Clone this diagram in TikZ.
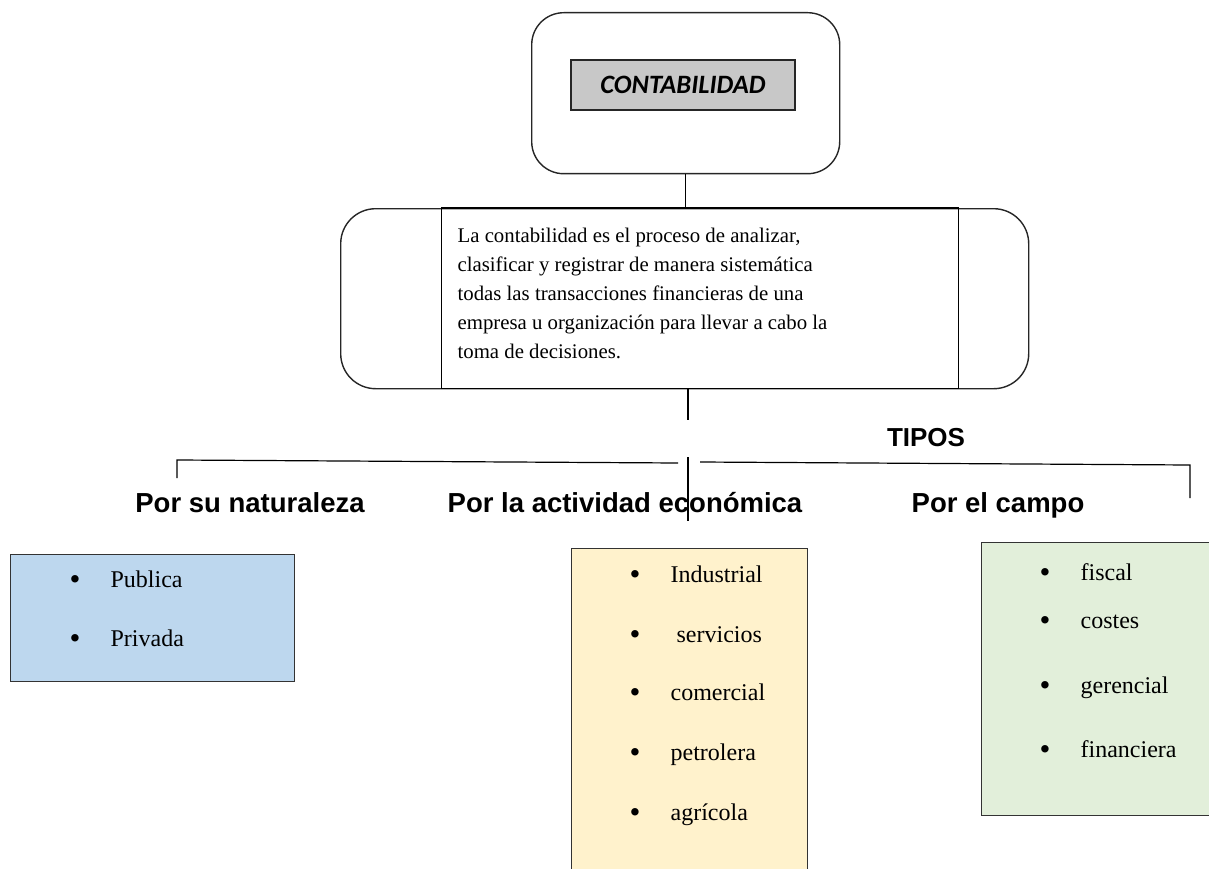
\documentclass[tikz,border=0pt]{standalone}
\usepackage{fontspec}
\setmainfont{Liberation Serif}
\newfontfamily\arialf{Liberation Sans}
\newfontfamily\calibf{Carlito}
\definecolor{grayF}{HTML}{C8C8C8}
\definecolor{blueF}{HTML}{BDD7EE}
\definecolor{yellowF}{HTML}{FFF2CC}
\definecolor{greenF}{HTML}{E2EFDA}
\newcommand{\bul}{\makebox[41pt][l]{\raisebox{-2.5pt}{\fontsize{31}{31}\selectfont •}}}
\begin{document}
\begin{tikzpicture}[x=1pt,y=-1pt,line width=1.2pt,
  frame/.style={draw=black!85,line width=1.4pt,anchor=north west,inner sep=0pt},
  box/.style={draw=black!80,line width=1.4pt,anchor=north west,inner sep=0pt},
  head/.style={font=\arialf\bfseries\fontsize{27.5}{30}\selectfont,anchor=base,inner sep=0pt},
  item/.style={font=\fontsize{24}{28}\selectfont,anchor=base west,inner sep=0pt}]
\useasboundingbox (0,0) rectangle (1209,869);
% top box
\node[frame,rounded corners=32pt,minimum width=308pt,minimum height=161pt] (top) at (531,12) {};
\node[draw=black!85,line width=1.2pt,fill=grayF,minimum width=224pt,minimum height=50pt,inner sep=0pt,
  font=\calibf\bfseries\itshape\fontsize{26.5}{30}\selectfont] (title) at (683,85) {CONTABILIDAD};
% description box
\node[frame,rounded corners=35pt,minimum width=688pt,minimum height=180pt] (desc) at (340,208) {};
\node[draw=black,line width=1.3pt,anchor=north west,minimum width=517pt,minimum height=180pt,inner sep=0pt] (inner) at (441,208) {};
\draw[line width=2.6pt] (inner.north west) -- (inner.north east);
\node[anchor=north west,inner sep=0pt,align=left,font=\fontsize{20.8}{29}\selectfont] (para) at (457,227)
 {La contabilidad es el proceso de analizar,\\
  clasificar y registrar de manera sistemática\\
  todas las transacciones financieras de una\\
  empresa u organización para llevar a cabo la\\
  toma de decisiones.};
% connectors
\draw (top.south) -- (top.south |- desc.north);
\coordinate (j1) at (688,420);
\draw (desc.south -| j1) -- (j1);
\coordinate (lt) at (177,478);
\coordinate (lc) at (177,460);
\coordinate (le) at (678,463);
\coordinate (rs) at (700,462);
\coordinate (rc) at (1190,465);
\coordinate (rt) at (1190,498);
\coordinate (mt) at (688,457);
\coordinate (mb) at (688,521);
\draw (lt) -- (lc) -- (le);
\draw (rs) -- (rc) -- (rt);
\draw (mt) -- (mb);
% labels
\node[head,font=\arialf\bfseries\fontsize{26}{30}\selectfont] (tipos) at (926,446) {TIPOS};
\node[head] (h1) at (250,512) {Por su naturaleza};
\node[head] (h2) at (625,512) {Por la actividad económica};
\node[head] (h3) at (998,512) {Por el campo};
% boxes
\node[box,fill=blueF,minimum width=284pt,minimum height=127pt] (b1) at (10,554) {};
\node[box,fill=yellowF,minimum width=236pt,minimum height=340pt] (b2) at (571,548) {};
\node[box,fill=greenF,minimum width=250pt,minimum height=273pt] (b3) at (981,542) {};
% items
\node[item] (p1) at (69,587) {\bul Publica};
\node[item] (p2) at (69,646) {\bul Privada};
\node[item] (a1) at (629,582) {\bul Industrial};
\node[item] (a2) at (629,642) {\bul\ servicios};
\node[item] (a3) at (629,700) {\bul comercial};
\node[item] (a4) at (629,760) {\bul petrolera};
\node[item] (a5) at (629,820) {\bul agrícola};
\node[item] (c1) at (1039,580) {\bul fiscal};
\node[item] (c2) at (1039,628) {\bul costes};
\node[item] (c3) at (1039,693) {\bul gerencial};
\node[item] (c4) at (1039,757) {\bul financiera};
\end{tikzpicture}
\end{document}
